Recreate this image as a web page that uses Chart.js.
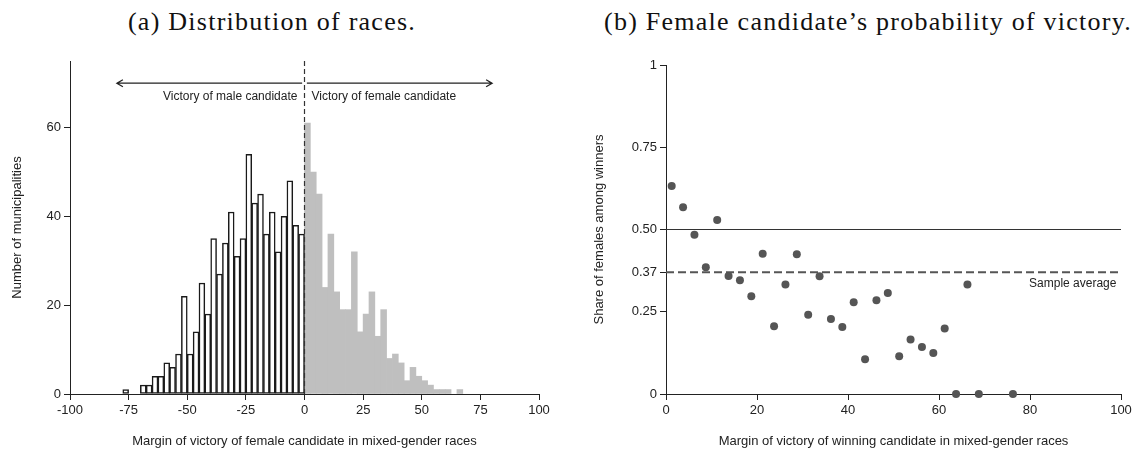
<!DOCTYPE html>
<html>
<head>
<meta charset="utf-8">
<script src="https://cdn.jsdelivr.net/npm/chart.js@4"></script>
<style>
	body { margin: 0; background: #fff; }
	#wrap { position: relative; width: 1140px; height: 453px; overflow: hidden; }
	.title { position: absolute; top: 7px; font-family: 'Liberation Serif', 'Times New Roman', serif; font-size: 26px; letter-spacing: 1.25px; color: #111; white-space: nowrap; transform: translateX(-50%); }
	canvas { position: absolute; top: 0; left: 0; }
</style>
</head>
<body>
<div id="wrap">
	<div class="title" style="left:272px">(a) Distribution of races.</div>
	<div class="title" style="left:868px">(b) Female candidate’s probability of victory.</div>
	<div style="position:absolute;left:0;top:0;width:560px;height:453px"><canvas id="racesChart" width="560" height="453"></canvas></div>
	<div style="position:absolute;left:560px;top:0;width:580px;height:453px"><canvas id="victoryChart" width="580" height="453"></canvas></div>
</div>
<script>
// histogram bins are 2.5 points wide
const binWidth = 2.5;
const maleBinStart = -77.5;
const maleCounts = [1, null, null, 2, 2, 4, 4, 7, 6, 9, 22, 9, 14, 25, 18, 35, 27, 34, 41, 31, 35,
	54, 43, 45, 36, 41, 32, 40, 48, 38, 36];
const femaleBinStart = 0;
const femaleCounts = [61, 50, 45, 24, 36, 23, 19, 19, 32, 14, 18, 23, 13, 19, 8, 9, 7, 3, 6, 4, 3,
	2, 1, 1, 1, null, 1];
const leftYTicks = [0, 20, 40, 60];

// panel b
const marginX = [1.25, 3.75, 6.25, 8.75, 11.25, 13.75, 16.25, 18.75, 21.25, 23.75, 26.25, 28.75,
	31.25, 33.75, 36.25, 38.75, 41.25, 43.75, 46.25, 48.75, 51.25, 53.75, 56.25, 58.75, 61.25,
	63.75, 66.25, 68.75, 76.25];
const femaleShare = [0.632, 0.568, 0.484, 0.385, 0.529, 0.359, 0.346, 0.297, 0.426, 0.206, 0.333,
	0.425, 0.241, 0.358, 0.228, 0.204, 0.279, 0.106, 0.285, 0.307, 0.115, 0.166, 0.143, 0.125,
	0.199, 0, 0.333, 0, 0];
const sampleAverage = 0.37;
const parityLine = 0.5;
const rightYTicks = [0, 0.25, 0.37, 0.5, 0.75, 1];
const rightYLabels = ['0', '0.25', '0.37', '0.50', '0.75', '1'];

Chart.defaults.font.family = "'Liberation Sans', Arial, sans-serif";
Chart.defaults.font.size = 13;
Chart.defaults.color = '#222';

const toBars = (start, counts) =>
	counts.map((c, i) => ({ x: start + binWidth * (i + 0.5), y: c }));

const axisGrid = { display: true, drawOnChartArea: false, drawTicks: true, tickLength: 6, color: '#222', offset: false };
const axisBorder = { display: true, color: '#222', width: 1 };

function arrow(ctx, x1, x2, y) {
	ctx.beginPath();
	ctx.moveTo(x1, y);
	ctx.lineTo(x2, y);
	let d = x2 > x1 ? -1 : 1;
	ctx.moveTo(x2 + d * 6, y - 3.5);
	ctx.lineTo(x2, y);
	ctx.lineTo(x2 + d * 6, y + 3.5);
	ctx.stroke();
}

const raceNotes = {
	id: 'raceNotes',
	afterDatasetsDraw(chart) {
		const { ctx, scales: { x, y }, chartArea } = chart;
		ctx.save();
		// threshold at zero
		ctx.strokeStyle = '#333';
		ctx.lineWidth = 1.2;
		ctx.setLineDash([5, 3]);
		ctx.beginPath();
		ctx.moveTo(x.getPixelForValue(0), chartArea.top);
		ctx.lineTo(x.getPixelForValue(0), chartArea.bottom);
		ctx.stroke();
		ctx.setLineDash([]);
		ctx.strokeStyle = '#222';
		ctx.lineWidth = 1.3;
		let ay = y.getPixelForValue(70);
		arrow(ctx, x.getPixelForValue(-1), x.getPixelForValue(-80), ay);
		arrow(ctx, x.getPixelForValue(1), x.getPixelForValue(80), ay);
		ctx.fillStyle = '#222';
		ctx.font = "12px 'Liberation Sans', Arial, sans-serif";
		ctx.textBaseline = 'middle';
		let ty = y.getPixelForValue(67);
		ctx.textAlign = 'right';
		ctx.fillText('Victory of male candidate', x.getPixelForValue(-3), ty);
		ctx.textAlign = 'left';
		ctx.fillText('Victory of female candidate', x.getPixelForValue(3), ty);
		ctx.restore();
	}
};

new Chart(document.getElementById('racesChart'), {
	type: 'bar',
	data: {
		datasets: [
			{
				label: 'Male winner',
				data: toBars(maleBinStart, maleCounts),
				backgroundColor: '#ffffff',
				borderColor: '#1a1a1a',
				borderWidth: 1.5,
				borderSkipped: false,
			},
			{
				label: 'Female winner',
				data: toBars(femaleBinStart, femaleCounts),
				backgroundColor: '#bfbfbf',
				borderWidth: 0,
			},
		],
	},
	plugins: [raceNotes],
	options: {
		responsive: false,
		animation: false,
		devicePixelRatio: 1,
		layout: { padding: { top: 61, right: 21, bottom: 0, left: 0 } },
		datasets: { bar: { grouped: false, barPercentage: 1, categoryPercentage: 1 } },
		plugins: { legend: { display: false }, tooltip: { enabled: false } },
		scales: {
			x: {
				type: 'linear',
				min: -100,
				max: 100,
				offset: false,
				grid: axisGrid,
				border: axisBorder,
				ticks: { stepSize: 25, padding: 3, color: '#222' },
				title: { display: true, text: 'Margin of victory of female candidate in mixed-gender races', padding: { top: 0, bottom: 4 } },
				afterFit: s => { s.height = 59; },
			},
			y: {
				min: 0,
				max: 75,
				grid: axisGrid,
				border: axisBorder,
				afterBuildTicks: s => { s.ticks = leftYTicks.map(v => ({ value: v })); },
				ticks: { padding: 3, color: '#222' },
				title: { display: true, text: 'Number of municipalities', padding: { top: 10, bottom: 0 } },
				afterFit: s => { s.width = 70; },
			},
		},
	},
});

const victoryNotes = {
	id: 'victoryNotes',
	afterDatasetsDraw(chart) {
		const { ctx, scales: { x, y } } = chart;
		ctx.save();
		ctx.fillStyle = '#222';
		ctx.font = "12px 'Liberation Sans', Arial, sans-serif";
		ctx.textAlign = 'right';
		ctx.textBaseline = 'middle';
		ctx.fillText('Sample average', x.getPixelForValue(99), y.getPixelForValue(0.335));
		ctx.restore();
	}
};

new Chart(document.getElementById('victoryChart'), {
	type: 'scatter',
	data: {
		datasets: [
			{
				label: 'Share of females',
				data: marginX.map((m, i) => ({ x: m, y: femaleShare[i] })),
				backgroundColor: '#555555',
				borderWidth: 0,
				pointRadius: 4,
				clip: false,
				order: 0,
			},
			{
				label: 'Parity',
				data: [{ x: 0, y: parityLine }, { x: 100, y: parityLine }],
				showLine: true,
				borderColor: '#333',
				borderWidth: 1,
				pointRadius: 0,
				order: 1,
			},
			{
				label: 'Sample average',
				data: [{ x: 0, y: sampleAverage }, { x: 100, y: sampleAverage }],
				showLine: true,
				borderColor: '#555',
				borderWidth: 2,
				borderDash: [8, 4],
				pointRadius: 0,
				order: 2,
			},
		],
	},
	plugins: [victoryNotes],
	options: {
		responsive: false,
		animation: false,
		devicePixelRatio: 1,
		layout: { padding: { top: 65, right: 19, bottom: 0, left: 0 } },
		plugins: { legend: { display: false }, tooltip: { enabled: false } },
		scales: {
			x: {
				type: 'linear',
				min: 0,
				max: 100,
				grid: axisGrid,
				border: axisBorder,
				ticks: { stepSize: 20, padding: 3, color: '#222' },
				title: { display: true, text: 'Margin of victory of winning candidate in mixed-gender races', padding: { top: 0, bottom: 4 } },
				afterFit: s => { s.height = 59; },
			},
			y: {
				min: 0,
				max: 1,
				grid: axisGrid,
				border: axisBorder,
				afterBuildTicks: s => { s.ticks = rightYTicks.map(v => ({ value: v })); },
				ticks: { padding: 3, color: '#222', autoSkip: false, callback: (v, i) => rightYLabels[i] },
				title: { display: true, text: 'Share of females among winners', padding: { top: 32, bottom: 0 } },
				afterFit: s => { s.width = 106; },
			},
		},
	},
});
</script>
</body>
</html>
